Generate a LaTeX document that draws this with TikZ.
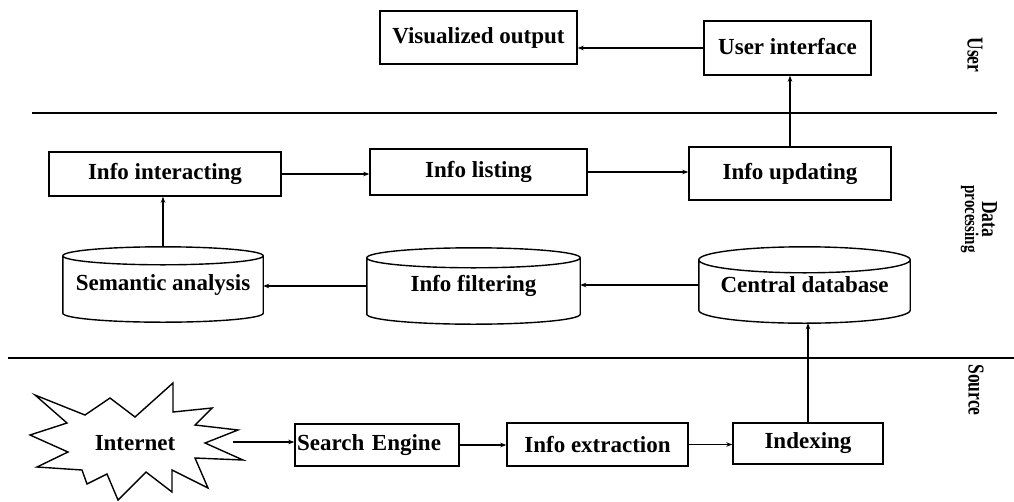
\documentclass[tikz,border=0pt]{standalone}
\usepackage{fontspec}
\setmainfont{Liberation Serif}
\usetikzlibrary{arrows.meta,calc}

\tikzset{
  box/.style={draw, line width=1.4pt, inner sep=0pt,
    font=\bfseries\fontsize{23}{26}\selectfont},
  cylnode/.style={inner sep=0pt, font=\bfseries\fontsize{23}{26}\selectfont},
  flow/.style={line width=1.1pt, -{Stealth[length=6pt,width=4.5pt]}},
  sidelabel/.style={rotate=-90, align=center,
    font=\bfseries\fontsize{17.5}{19}\selectfont},
  lane/.style={line width=1.2pt},
  outline/.style={line width=1.4pt, line join=miter}
}

% cylinder outline around a named node: #1 = node, #2 = half height of the rim ellipse (pt)
\newcommand\cylbody[2]{%
  \path[outline, draw] let \p1=(#1.north west), \p2=(#1.south east),
      \n1={(\x2-\x1)/2} in
    (\x1,\y1-#2pt) arc[start angle=180, end angle=540, x radius={\n1*1pt}, y radius=#2pt]
    (\x1,\y1-#2pt) -- (\x1,\y2+#2pt)
      arc[start angle=180, end angle=360, x radius={\n1*1pt}, y radius=#2pt]
      -- (\x2,\y1-#2pt);
}
% taller glyphs for the lane titles
\newcommand\tallsc[1]{\scalebox{1}[1.3]{#1}}

\begin{document}
\begin{tikzpicture}[x=1pt, y=-1pt]
\useasboundingbox (0,0) rectangle (1014,501);

% lane separators
\draw[lane] (32,113) -- (997,113);
\draw[lane] (8,358) -- (1014,358);

% lane titles
\node[sidelabel] (luser) at (975,55) {\tallsc{User}};
\node[sidelabel] (ldata) at (979,219)
  {\tallsc{Data}\\[-2pt]\tallsc{\fontsize{15}{17}\selectfont processing}};
\node[sidelabel] (lsrc)  at (976,390) {\tallsc{Source}};

% user lane
\node[box, minimum width=197pt, minimum height=53pt] (vis) at (478.5,37.5) {Visualized output};
\node[box, minimum width=167pt, minimum height=54pt] (ui) at (787.5,48) {\raisebox{4pt}{User interface}};

% data processing lane
\node[box, minimum width=232pt, minimum height=44pt] (int) at (165,174) {Info interacting};
\node[box, minimum width=217pt, minimum height=46pt] (lst) at (478.5,172) {Info listing};
\node[box, minimum width=202pt, minimum height=53pt] (upd) at (790,173.5) {Info updating};

\node[cylnode, minimum width=200pt, minimum height=75pt] (sem) at (163,284.5) {\raisebox{-5pt}{Semantic analysis}};
\node[cylnode, minimum width=213pt, minimum height=76pt] (fil) at (473.5,286) {\raisebox{-3pt}{Info filtering}};
\node[cylnode, minimum width=211pt, minimum height=76pt] (cen) at (804.5,285) {\raisebox{-6pt}{Central database}};
\cylbody{sem}{9}
\cylbody{fil}{10}
\cylbody{cen}{13}

% source lane
\draw[outline] (35,395) -- (85,415) -- (110,398) -- (135,417) -- (173,383)
  -- (173,412) -- (212,408) -- (195,425) -- (238,430) -- (205,443)
  -- (243,460) -- (195,458) -- (208,488) -- (172,470) -- (172,492)
  -- (146,472) -- (118,500) -- (107,474) -- (87,484) -- (82,470)
  -- (37,467) -- (68,452) -- (30,435) -- (67,423) -- cycle;
\node[cylnode] (inet) at (135,443) {Internet};
\coordinate (istart) at (233,442);

\node[box, minimum width=164pt, minimum height=42pt, text width=160pt, align=left,
  inner xsep=2pt] (src) at (377,445) {\raisebox{3pt}{Search Engine}};
\node[box, minimum width=181pt, minimum height=43pt] (ext) at (597.5,444.5) {Info extraction};
\node[box, minimum width=150pt, minimum height=41pt] (idx) at (808,443.5) {Indexing};

% connectors
\draw[flow] (ui.west) -- (vis.east |- ui.west);
\draw[flow] (upd.north) -- (upd.north |- ui.south);
\draw[flow] (int.east) -- (lst.west |- int.east);
\draw[flow] (lst.east) -- (upd.west |- lst.east);
\draw[flow] (cen.west) -- (fil.east |- cen.west);
\draw[flow] (fil.west) -- (sem.east |- fil.west);
\draw[flow] (sem.north) -- (sem.north |- int.south);
\draw[flow] (istart) -- (src.west |- istart);
\draw[flow] (src.east) -- (ext.west |- src.east);
\draw[flow] (ext.east) -- (idx.west |- ext.east);
\draw[flow] (idx.north) -- (idx.north |- cen.south);
\end{tikzpicture}
\end{document}
